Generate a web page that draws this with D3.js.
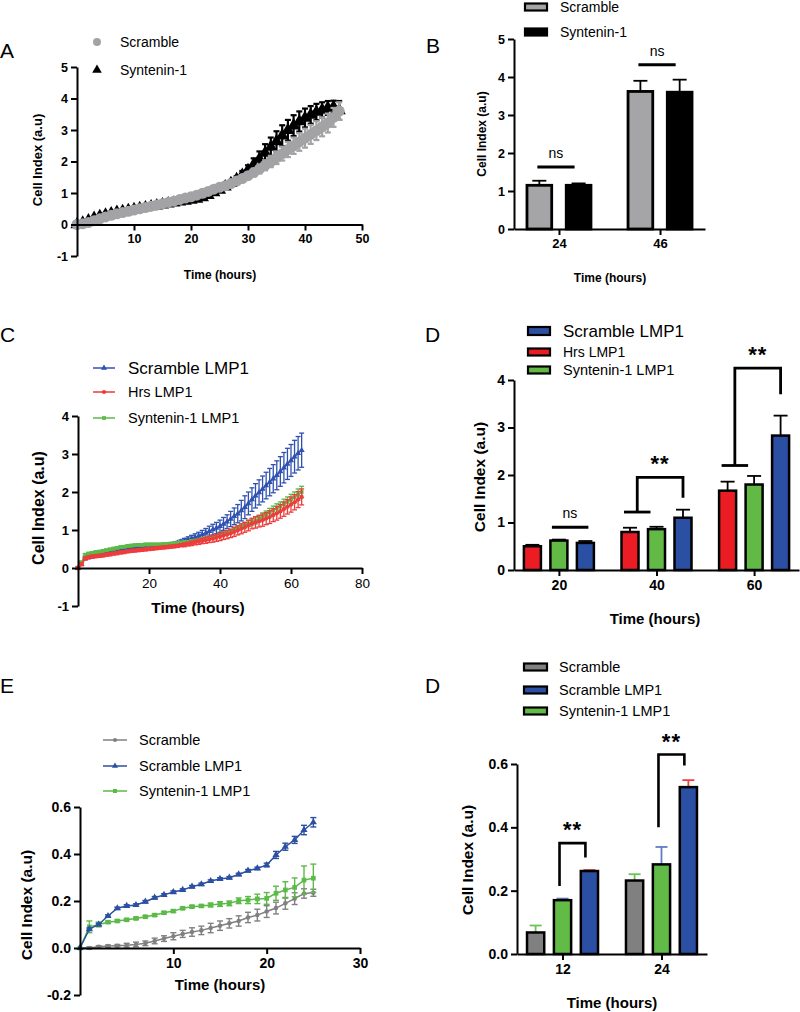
<!DOCTYPE html>
<html><head><meta charset="utf-8">
<script src="https://cdn.jsdelivr.net/npm/d3@7"></script>
<style>body{margin:0;background:#fff}svg{display:block}</style>
</head><body>
<script>
// ---------------- DATA ----------------
// Panel A (real-time cell index, hourly)
const hoursA = [0,1,2,3,4,5,6,7,8,9,10,11,12,13,14,15,16,17,18,19,20,21,22,23,24,25,26,27,28,29,30,31,32,33,34,35,36,37,38,39,40,41,42,43,44,45,46];
const scrambleA = [0,0.02,0.06,0.12,0.18,0.24,0.29,0.34,0.38,0.42,0.46,0.5,0.54,0.58,0.62,0.66,0.7,0.74,0.79,0.84,0.88,0.93,0.99,1.05,1.12,1.18,1.23,1.3,1.38,1.46,1.55,1.65,1.76,1.88,2.0,2.12,2.25,2.38,2.5,2.62,2.74,2.86,2.98,3.1,3.22,3.4,3.6];
const scrambleASd = [0.04,0.04,0.04,0.04,0.04,0.04,0.04,0.04,0.04,0.04,0.04,0.04,0.04,0.04,0.04,0.04,0.04,0.04,0.04,0.04,0.04,0.04,0.04,0.04,0.04,0.04,0.04,0.04,0.06,0.08,0.1,0.12,0.14,0.16,0.18,0.2,0.22,0.24,0.26,0.28,0.3,0.3,0.3,0.3,0.3,0.3,0.28];
const synteninA = [0,0.05,0.12,0.2,0.26,0.31,0.35,0.39,0.42,0.45,0.48,0.51,0.54,0.57,0.6,0.63,0.66,0.69,0.72,0.75,0.78,0.81,0.86,0.93,1.02,1.1,1.2,1.31,1.43,1.57,1.72,1.9,2.08,2.27,2.46,2.64,2.82,2.99,3.14,3.27,3.38,3.48,3.57,3.64,3.7,3.73,3.62];
const synteninASd = [0.03,0.03,0.03,0.03,0.03,0.03,0.03,0.03,0.03,0.03,0.03,0.03,0.03,0.03,0.03,0.03,0.03,0.03,0.03,0.03,0.03,0.03,0.03,0.03,0.03,0.03,0.05,0.07,0.1,0.13,0.16,0.2,0.24,0.28,0.3,0.32,0.33,0.33,0.33,0.32,0.3,0.28,0.26,0.24,0.22,0.2,0.3];

// Panel B
const groupsB = ["24","46"];
const scrambleB = [1.15, 3.62];
const scrambleBErr = [0.12, 0.28];
const synteninB = [1.15, 3.6];
const synteninBErr = [0.05, 0.33];
const nsB = [1.63, 4.32];

// Panel C (hourly)
const hoursC = [0,1,2,3,4,5,6,7,8,9,10,11,12,13,14,15,16,17,18,19,20,21,22,23,24,25,26,27,28,29,30,31,32,33,34,35,36,37,38,39,40,41,42,43,44,45,46,47,48,49,50,51,52,53,54,55,56,57,58,59,60,61,62,63];
const scrLmp1C = [0,0.1,0.25,0.28,0.3,0.32,0.34,0.36,0.38,0.4,0.42,0.44,0.46,0.48,0.5,0.52,0.53,0.54,0.55,0.56,0.57,0.57,0.58,0.58,0.59,0.6,0.61,0.63,0.66,0.69,0.72,0.75,0.78,0.81,0.84,0.88,0.92,0.97,1.01,1.05,1.1,1.16,1.22,1.29,1.36,1.43,1.51,1.6,1.7,1.8,1.9,1.99,2.08,2.17,2.26,2.35,2.44,2.54,2.64,2.74,2.83,2.93,3.02,3.1];
const scrLmp1CSd = [0.03,0.03,0.03,0.03,0.03,0.03,0.03,0.03,0.03,0.03,0.03,0.03,0.03,0.03,0.03,0.03,0.03,0.03,0.03,0.03,0.03,0.03,0.03,0.03,0.03,0.03,0.03,0.03,0.04,0.05,0.06,0.07,0.08,0.09,0.1,0.11,0.12,0.13,0.14,0.15,0.16,0.17,0.18,0.2,0.22,0.24,0.27,0.3,0.3,0.31,0.32,0.33,0.34,0.35,0.36,0.37,0.38,0.39,0.4,0.41,0.42,0.43,0.44,0.45];
const hrsLmp1C = [0,0.1,0.25,0.28,0.3,0.31,0.32,0.33,0.35,0.36,0.38,0.39,0.41,0.42,0.44,0.45,0.46,0.47,0.48,0.49,0.5,0.51,0.52,0.53,0.54,0.55,0.56,0.57,0.58,0.6,0.61,0.63,0.65,0.67,0.69,0.71,0.73,0.75,0.77,0.79,0.82,0.85,0.88,0.91,0.95,0.99,1.03,1.07,1.12,1.17,1.2,1.23,1.26,1.3,1.34,1.39,1.44,1.49,1.55,1.61,1.67,1.73,1.8,1.87];
const hrsLmp1CSd = [0.04,0.04,0.04,0.04,0.04,0.04,0.04,0.04,0.04,0.04,0.04,0.04,0.04,0.04,0.04,0.04,0.04,0.04,0.04,0.04,0.04,0.04,0.04,0.04,0.04,0.04,0.04,0.04,0.04,0.04,0.05,0.05,0.06,0.06,0.07,0.07,0.08,0.08,0.09,0.09,0.1,0.1,0.11,0.11,0.12,0.12,0.13,0.13,0.14,0.14,0.15,0.15,0.16,0.16,0.17,0.17,0.18,0.18,0.19,0.19,0.2,0.2,0.21,0.21];
const synLmp1C = [0,0.15,0.35,0.38,0.4,0.42,0.43,0.45,0.47,0.49,0.51,0.53,0.55,0.56,0.58,0.59,0.6,0.61,0.61,0.62,0.62,0.62,0.62,0.62,0.63,0.63,0.64,0.65,0.66,0.67,0.68,0.69,0.71,0.72,0.74,0.76,0.78,0.8,0.82,0.84,0.87,0.9,0.93,0.97,1.01,1.05,1.09,1.13,1.17,1.21,1.25,1.3,1.35,1.4,1.46,1.52,1.57,1.62,1.68,1.74,1.8,1.86,1.93,2.0];
const synLmp1CSd = [0.03,0.03,0.03,0.03,0.03,0.03,0.03,0.03,0.03,0.03,0.03,0.03,0.03,0.03,0.03,0.03,0.03,0.03,0.03,0.03,0.03,0.03,0.03,0.03,0.03,0.03,0.03,0.03,0.03,0.03,0.03,0.03,0.03,0.03,0.03,0.03,0.03,0.03,0.03,0.03,0.04,0.04,0.05,0.05,0.06,0.06,0.07,0.07,0.08,0.08,0.09,0.09,0.1,0.1,0.11,0.11,0.12,0.12,0.13,0.13,0.14,0.14,0.15,0.15];

// Panel D (top right)
const groupsD = ["20","40","60"];
const hrsD = [0.5, 0.8, 1.67];
const hrsDErr = [0.03, 0.09, 0.19];
const synD = [0.62, 0.86, 1.8];
const synDErr = [0.02, 0.05, 0.18];
const scrD = [0.57, 1.1, 2.83];
const scrDErr = [0.04, 0.17, 0.42];
const nsD20 = 0.9;
const bracketD40 = [1.22, 1.95, 1.52];
const bracketD60 = [2.2, 4.25, 3.7];

// Panel E (hourly)
const hoursE = [0,1,2,3,4,5,6,7,8,9,10,11,12,13,14,15,16,17,18,19,20,21,22,23,24,25];
const scrambleE = [0,0.0,0.005,0.008,0.01,0.012,0.015,0.02,0.03,0.04,0.05,0.06,0.068,0.075,0.085,0.095,0.105,0.115,0.13,0.14,0.155,0.17,0.19,0.21,0.232,0.235];
const scrambleESd = [0,0.005,0.005,0.005,0.005,0.008,0.01,0.01,0.012,0.012,0.015,0.015,0.018,0.018,0.02,0.02,0.02,0.022,0.022,0.025,0.025,0.025,0.025,0.025,0.02,0.015];
const scrLmp1E = [0,0.08,0.1,0.136,0.169,0.179,0.183,0.197,0.214,0.226,0.238,0.247,0.261,0.271,0.285,0.294,0.299,0.313,0.329,0.339,0.353,0.396,0.431,0.46,0.502,0.535];
const scrLmp1ESd = [0,0.005,0.005,0.005,0.005,0.005,0.005,0.005,0.005,0.005,0.005,0.005,0.005,0.005,0.005,0.005,0.005,0.005,0.005,0.005,0.008,0.015,0.015,0.015,0.02,0.02];
const synLmp1E = [0,0.09,0.1,0.11,0.115,0.12,0.126,0.133,0.14,0.15,0.157,0.169,0.176,0.179,0.183,0.187,0.19,0.201,0.204,0.209,0.211,0.233,0.247,0.258,0.289,0.297];
const synLmp1ESd = [0,0.025,0.01,0.005,0.005,0.005,0.005,0.005,0.005,0.005,0.005,0.005,0.005,0.005,0.008,0.01,0.01,0.012,0.015,0.02,0.025,0.03,0.035,0.04,0.06,0.06];

// Panel D (bottom right)
const groupsD2 = ["12","24"];
const scrambleD2 = [0.068, 0.232];
const scrambleD2Err = [0.022, 0.02];
const synD2 = [0.17, 0.283];
const synD2Err = [0.005, 0.055];
const scrLmp1D2 = [0.262, 0.527];
const scrLmp1D2Err = [0.003, 0.022];
const bracketD2_12 = [0.215, 0.35, 0.305];
const bracketD2_24 = [0.4, 0.63, 0.595];

// ---------------- DRAWING ----------------
const FONT = "'Liberation Sans', Arial, Helvetica, sans-serif";
const svg = d3.select("body").append("svg").attr("width", 800).attr("height", 1012);
svg.append("rect").attr("width", 800).attr("height", 1012).attr("fill", "#fff");

function text(x, y, s, size, weight, anchor, rot) {
  const t = svg.append("text").attr("x", x).attr("y", y).text(s)
    .style("font-family", FONT).style("font-size", size + "px")
    .style("font-weight", weight || "normal").attr("text-anchor", anchor || "start").attr("fill", "#000");
  if (rot) t.attr("transform", `rotate(${rot},${x},${y})`);
  return t;
}
function styleAx(g, fs, w) {
  g.select(".domain").attr("stroke", "#000").attr("stroke-width", 2);
  g.selectAll(".tick line").attr("stroke", "#000").attr("stroke-width", 2);
  g.selectAll(".tick text").attr("fill", "#000").style("font-family", FONT)
    .style("font-size", fs + "px").style("font-weight", w);
}
function yAxis(y, x0, ticks, fmt, fs) {
  const g = svg.append("g").attr("transform", `translate(${x0},0)`)
    .call(d3.axisLeft(y).tickValues(ticks).tickFormat(fmt).tickSize(6).tickSizeOuter(0).tickPadding(3));
  styleAx(g, fs, "bold");
}
function xAxis(x, y0, ticks, fmt, fs, w) {
  const ax = d3.axisBottom(x).tickSize(6).tickSizeOuter(0).tickPadding(4);
  if (ticks) ax.tickValues(ticks);
  if (fmt) ax.tickFormat(fmt);
  const g = svg.append("g").attr("transform", `translate(0,${y0})`).call(ax);
  styleAx(g, fs, w);
}
function series(x, y, t, v, sd, color, sym, size, opt) {
  const g = svg.append("g");
  const eg = g.append("g").attr("stroke", color).attr("stroke-width", opt.ew || 1.2).attr("fill", "none");
  const cw = opt.cw || 2.5;
  t.forEach((ti, i) => {
    if (!sd[i]) return;
    const xx = x(ti), y1 = y(v[i] - sd[i]), y2 = y(v[i] + sd[i]);
    eg.append("line").attr("x1", xx).attr("x2", xx).attr("y1", y1).attr("y2", y2);
    eg.append("line").attr("x1", xx - cw).attr("x2", xx + cw).attr("y1", y1).attr("y2", y1);
    eg.append("line").attr("x1", xx - cw).attr("x2", xx + cw).attr("y1", y2).attr("y2", y2);
  });
  const pts = t.map((ti, i) => [ti, v[i]]);
  if (opt.line) g.append("path").datum(pts)
    .attr("d", d3.line().x(d => x(d[0])).y(d => y(d[1])))
    .attr("fill", "none").attr("stroke", color).attr("stroke-width", opt.lw || 1.5);
  g.selectAll(null).data(pts).join("path")
    .attr("transform", d => `translate(${x(d[0])},${y(d[1])})`)
    .attr("d", d3.symbol().type(sym).size(size)).attr("fill", color);
}
function lineLegend(x1, x2, y, color, sym, size, label, fs, tx) {
  svg.append("line").attr("x1", x1).attr("x2", x2).attr("y1", y).attr("y2", y).attr("stroke", color).attr("stroke-width", 1.5);
  svg.append("path").attr("transform", `translate(${(x1 + x2) / 2},${y})`).attr("d", d3.symbol().type(sym).size(size)).attr("fill", color);
  text(tx, y, label, fs).attr("dy", "0.35em");
}
function swatch(x, y, w, h, fill, label, fs, tx) {
  svg.append("rect").attr("x", x).attr("y", y - h / 2).attr("width", w).attr("height", h)
    .attr("fill", fill).attr("stroke", "#000").attr("stroke-width", 2.2);
  text(tx, y, label, fs).attr("dy", "0.35em");
}
function barPanel(cfg) {
  const xg = d3.scalePoint().domain(cfg.groups).range(cfg.xRange).padding(cfg.pad);
  const xi = d3.scaleBand().domain(cfg.series.map(s => s.key)).range(cfg.inner).paddingInner(cfg.pi);
  const y = d3.scaleLinear().domain(cfg.yDomain).range(cfg.yRange);
  const w = xi.bandwidth();
  cfg.series.forEach(s => {
    cfg.groups.forEach((gn, i) => {
      const x0 = xg(gn) + xi(s.key), cx = x0 + w / 2, v = s.vals[i], e = s.errs[i];
      const eg = svg.append("g").attr("stroke", s.errColor || "#000").attr("stroke-width", 1.8);
      eg.append("line").attr("x1", cx).attr("x2", cx).attr("y1", y(v)).attr("y2", y(v + e));
      eg.append("line").attr("x1", cx - cfg.cap).attr("x2", cx + cfg.cap).attr("y1", y(v + e)).attr("y2", y(v + e));
      svg.append("rect").attr("x", x0).attr("y", y(v)).attr("width", w).attr("height", y(0) - y(v))
        .attr("fill", s.fill).attr("stroke", "#000").attr("stroke-width", cfg.bw || 2.5);
    });
  });
  yAxis(y, cfg.xRange[0], cfg.yTicks, cfg.yFmt, cfg.yFs);
  xAxis(xg, y(0), null, null, cfg.xFs, "bold");
  return { xg, xi, y, w };
}
function bracket(xl, xr, y, vals, lw) {
  svg.append("path").attr("d", d3.line()([[xl, y(vals[0])], [xl, y(vals[1])], [xr, y(vals[1])], [xr, y(vals[2])]]))
    .attr("fill", "none").attr("stroke", "#000").attr("stroke-width", lw || 2.6);
}
function hline(x1, x2, yy, lw) {
  svg.append("line").attr("x1", x1).attr("x2", x2).attr("y1", yy).attr("y2", yy).attr("stroke", "#000").attr("stroke-width", lw || 2.8);
}

// ===== Panel A =====
{
  const x = d3.scaleLinear().domain([0, 50]).range([77, 362]);
  const y = d3.scaleLinear().domain([-1, 5]).range([256, 67]);
  series(x, y, hoursA, synteninA, synteninASd, "#000", d3.symbolTriangle, 75, { cw: 3, ew: 2.2 });
  series(x, y, hoursA, scrambleA, scrambleASd, "#a3a3a6", d3.symbolCircle, 95, { cw: 3, ew: 2.2 });
  yAxis(y, 77, [-1, 0, 1, 2, 3, 4, 5], d => String(d), 12.5);
  xAxis(x, y(0), [10, 20, 30, 40, 50], d => String(d), 12.5, "bold");
  text(220, 279, "Time (hours)", 12, "bold", "middle");
  text(42, 160, "Cell Index (a.u)", 13, "bold", "middle", -90);
  svg.append("path").attr("transform", "translate(97,42)").attr("d", d3.symbol().type(d3.symbolCircle).size(50)).attr("fill", "#a3a3a6");
  text(120, 42, "Scramble", 14).attr("dy", "0.35em");
  svg.append("path").attr("transform", "translate(97,70)").attr("d", d3.symbol().type(d3.symbolTriangle).size(40)).attr("fill", "#000");
  text(120, 70, "Syntenin-1", 14).attr("dy", "0.35em");
  text(0, 58, "A", 21);
}

// ===== Panel B =====
{
  const p = barPanel({
    groups: groupsB, xRange: [514, 705], pad: 0.445, inner: [-32, 32], pi: 0.37,
    yDomain: [0, 5], yRange: [229, 39], yTicks: [0, 1, 2, 3, 4, 5], yFmt: d => String(d), yFs: 12.5, xFs: 13,
    cap: 7, bw: 2.8,
    series: [
      { key: "Scramble", vals: scrambleB, errs: scrambleBErr, fill: "#a5a5a8" },
      { key: "Syntenin-1", vals: synteninB, errs: synteninBErr, fill: "#000" }
    ]
  });
  groupsB.forEach((gn, i) => {
    const a = p.xg(gn) + p.xi("Scramble") + p.w / 2, b = p.xg(gn) + p.xi("Syntenin-1") + p.w / 2;
    hline(a - 2, b - 4, p.y(nsB[i]), 3);
    text((a + b) / 2 - 3, p.y(nsB[i]) - 9, "ns", 14, "normal", "middle");
  });
  text(610, 282, "Time (hours)", 12, "bold", "middle");
  text(486, 134, "Cell Index (a.u)", 12, "bold", "middle", -90);
  swatch(525, 7, 22, 7, "#a5a5a8", "Scramble", 14, 560);
  swatch(525, 32, 22, 7, "#000", "Syntenin-1", 14, 560);
  text(426, 53, "B", 21);
}

// ===== Panel C =====
{
  const x = d3.scaleLinear().domain([0, 80]).range([78, 362]);
  const y = d3.scaleLinear().domain([-1, 4]).range([606, 416]);
  const blue = "#2f52b0", red = "#ee3b3b", green = "#5cba48";
  series(x, y, hoursC, scrLmp1C, scrLmp1CSd, blue, d3.symbolTriangle, 16, { line: true, cw: 2.5, ew: 1.3 });
  series(x, y, hoursC, synLmp1C, synLmp1CSd, green, d3.symbolSquare, 14, { line: true, cw: 2.5, ew: 1.3 });
  series(x, y, hoursC, hrsLmp1C, hrsLmp1CSd, red, d3.symbolCircle, 14, { line: true, cw: 2.5, ew: 1.3 });
  yAxis(y, 78, [-1, 0, 1, 2, 3, 4], d => String(d), 13);
  xAxis(x, y(0), [20, 40, 60, 80], d => String(d), 13.5, "normal");
  text(198, 613, "Time (hours)", 15.5, "bold", "middle");
  text(44, 508, "Cell Index (a.u)", 16, "bold", "middle", -90);
  lineLegend(93, 115, 368, blue, d3.symbolTriangle, 16, "Scramble LMP1", 17, 128);
  lineLegend(93, 115, 392, red, d3.symbolCircle, 14, "Hrs LMP1", 14.5, 128);
  lineLegend(93, 115, 418, green, d3.symbolSquare, 14, "Syntenin-1 LMP1", 14.5, 128);
  text(0, 342, "C", 21);
}

// ===== Panel D (top right) =====
{
  const p = barPanel({
    groups: groupsD, xRange: [514, 799], pad: 0.46, inner: [-35, 35], pi: 0.358,
    yDomain: [0, 4], yRange: [570, 380], yTicks: [0, 1, 2, 3, 4], yFmt: d => String(d), yFs: 14, xFs: 14,
    cap: 7, bw: 2.5,
    series: [
      { key: "Hrs LMP1", vals: hrsD, errs: hrsDErr, fill: "#ec1c24" },
      { key: "Syntenin-1 LMP1", vals: synD, errs: synDErr, fill: "#62b946" },
      { key: "Scramble LMP1", vals: scrD, errs: scrDErr, fill: "#2b4fa2" }
    ]
  });
  const cx = (g, k) => p.xg(g) + p.xi(k) + p.w / 2;
  hline(cx("20", "Syntenin-1 LMP1") - 7, cx("20", "Scramble LMP1") + 3, p.y(nsD20), 3);
  text(cx("20", "Syntenin-1 LMP1") + 11, p.y(nsD20) - 9, "ns", 14, "normal", "middle");
  [["40", bracketD40], ["60", bracketD60]].forEach(([g, b]) => {
    const l1 = cx(g, "Hrs LMP1") - 6, l2 = cx(g, "Syntenin-1 LMP1") - 6, xl = (l1 + l2) / 2, xr = cx(g, "Scramble LMP1");
    hline(l1, l2, p.y(b[0]), 2.8);
    bracket(xl, xr, p.y, b, 2.8);
    text((xl + xr) / 2, p.y(b[1]) - 6, "**", 22, "bold", "middle").style("letter-spacing", "1px");
  });
  text(655, 624, "Time (hours)", 15, "bold", "middle");
  text(485, 477, "Cell Index (a.u)", 15.5, "bold", "middle", -90);
  swatch(528, 331, 22, 8, "#2b4fa2", "Scramble LMP1", 17, 563);
  swatch(528, 352, 22, 7, "#ec1c24", "Hrs LMP1", 14, 563);
  swatch(528, 370, 22, 7, "#62b946", "Syntenin-1 LMP1", 14.5, 563);
  text(425, 342, "D", 21);
}

// ===== Panel E =====
{
  const x = d3.scaleLinear().domain([0, 30]).range([80, 360]);
  const y = d3.scaleLinear().domain([-0.2, 0.6]).range([995, 807]);
  const gray = "#808080", blue = "#2b4fa2", green = "#5cba48";
  series(x, y, hoursE, scrambleE, scrambleESd, gray, d3.symbolCircle, 16, { line: true, cw: 3, ew: 1.4 });
  series(x, y, hoursE, synLmp1E, synLmp1ESd, green, d3.symbolSquare, 22, { line: true, cw: 3, ew: 1.4 });
  series(x, y, hoursE, scrLmp1E, scrLmp1ESd, blue, d3.symbolTriangle, 22, { line: true, cw: 3, ew: 1.4 });
  yAxis(y, 80, [-0.2, 0, 0.2, 0.4, 0.6], d => d.toFixed(1), 14);
  xAxis(x, y(0), [10, 20, 30], d => String(d), 14, "bold");
  text(220, 990, "Time (hours)", 15, "bold", "middle");
  text(32, 905, "Cell Index (a.u)", 15.5, "bold", "middle", -90);
  lineLegend(103, 127, 740, gray, d3.symbolCircle, 14, "Scramble", 14.5, 139);
  lineLegend(103, 127, 766, blue, d3.symbolTriangle, 16, "Scramble LMP1", 14.5, 139);
  lineLegend(103, 127, 791, green, d3.symbolSquare, 16, "Syntenin-1 LMP1", 14.5, 139);
  text(0, 693, "E", 21);
}

// ===== Panel D (bottom right) =====
{
  const p = barPanel({
    groups: groupsD2, xRange: [517, 707], pad: 0.46, inner: [-35.5, 35.5], pi: 0.36,
    yDomain: [0, 0.6], yRange: [954, 764], yTicks: [0, 0.2, 0.4, 0.6], yFmt: d => d.toFixed(1), yFs: 14, xFs: 14,
    cap: 6, bw: 2.5,
    series: [
      { key: "Scramble", vals: scrambleD2, errs: scrambleD2Err, fill: "#808080", errColor: "#6cc257" },
      { key: "Syntenin-1 LMP1", vals: synD2, errs: synD2Err, fill: "#62bb46", errColor: "#5f7cc4" },
      { key: "Scramble LMP1", vals: scrLmp1D2, errs: scrLmp1D2Err, fill: "#2b4fa2", errColor: "#f03c3c" }
    ]
  });
  const cx = (g, k) => p.xg(g) + p.xi(k) + p.w / 2;
  [["12", bracketD2_12], ["24", bracketD2_24]].forEach(([g, b]) => {
    const xl = cx(g, "Syntenin-1 LMP1") - 3, xr = cx(g, "Scramble LMP1") - 4;
    bracket(xl, xr, p.y, b, 2.6);
    text((xl + xr) / 2, p.y(b[1]) - 6, "**", 22, "bold", "middle").style("letter-spacing", "1px");
  });
  text(612, 1008, "Time (hours)", 15, "bold", "middle");
  text(473, 860, "Cell Index (a.u)", 15.5, "bold", "middle", -90);
  swatch(524, 667, 23, 7, "#808080", "Scramble", 14.5, 559);
  swatch(524, 690, 23, 7, "#2b4fa2", "Scramble LMP1", 14.5, 559);
  swatch(524, 711, 23, 7, "#62bb46", "Syntenin-1 LMP1", 14.5, 559);
  text(425, 693, "D", 21);
}
</script>
</body></html>
